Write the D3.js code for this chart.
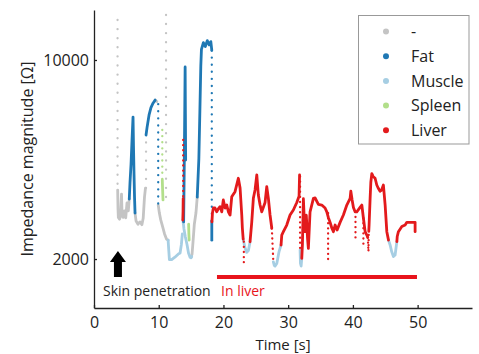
<!DOCTYPE html>
<html>
<head>
<meta charset="utf-8">
<script src="https://cdnjs.cloudflare.com/ajax/libs/d3/7.8.5/d3.min.js"></script>
<style>
  body { margin: 0; background: #fff; }
  svg text { font-family: "Open Sans", sans-serif; fill: #222; }
</style>
</head>
<body>
<div id="chart"></div>
<script>
// time [s], impedance [ohm]
const ticksX = [0, 10, 20, 30, 40, 50]
const ticksY = [2000, 10000]
const legendLabels = ["-", "Fat", "Muscle", "Spleen", "Liver"]

const greyTrace = [
  [[3.66,3494],[3.71,3000],[3.76,2800],[3.95,2760],[4.10,2830],[4.25,3380],[4.33,2900],[4.50,2800],[4.70,2950],[4.90,2790],[5.10,3150],[5.30,2950],[5.45,3250]],
  [[6.34,2900],[6.50,2720],[6.80,2650],[7.10,2700],[7.40,2640],[7.60,2780],[7.80,3300],[7.95,3550]],
  [[9.45,7230],[9.70,7150]],
  [[9.92,3100],[10.1,2900],[10.3,2750],[10.6,2600],[10.9,2450],[11.2,2350],[11.45,2330]],
  [[15.0,2030],[15.15,2080],[15.3,2300],[15.5,2650],[15.75,2900],[15.95,3300]]
]
const greyJumps = [
  [[3.64,13820],[3.64,3494]],
  [[8.04,3550],[8.04,5450]],
  [[11.13,14400],[11.13,3224]]
]

const fatTrace = [
  [[5.45,3250],[5.56,3700],[5.72,4300],[5.87,5200],[6.03,6300],[6.10,5000],[6.18,4000],[6.26,3300],[6.34,2900]],
  [[8.04,5450],[8.20,5800],[8.50,6400],[8.80,6800],[9.12,7050],[9.45,7230]],
  [[13.85,2700],[13.95,4400],[14.03,7000],[14.08,9450],[14.12,6500],[14.16,4450]],
  [[15.95,3300],[16.2,4500],[16.35,6500],[16.5,9500],[16.6,10900],[16.9,11500],[17.2,11150],[17.5,11700],[17.8,11300],[18.05,11600],[18.2,10800]],
  [[18.2,2720],[18.2,2330]]
]
const fatJumps = [
  [[9.92,7000],[9.92,3100]],
  [[18.2,10800],[18.2,2720]]
]

const muscleTrace = [
  [[11.45,2330],[11.55,2150],[11.65,1990],[12.0,1990],[12.5,2030],[13.0,2080],[13.3,2100],[13.5,2250],[13.65,2450]],
  [[13.74,2742],[13.9,2550],[14.1,2400],[14.37,2250],[14.6,2100],[14.84,2030],[15.0,2020],[15.1,2040]],
  [[23.05,2350],[23.3,2200],[23.6,2110],[23.85,2140],[24.11,2300]],
  [[27.71,1953],[27.85,1900],[27.98,1890],[28.24,1930],[28.59,2124],[28.90,2240]],
  [[31.84,2151],[31.9,1930],[32.0,1890],[32.1,2010]],
  [[45.5,2330],[45.75,2240],[46.0,2120],[46.26,2040],[46.52,2066],[46.79,2303]]
]

const spleenTrace = [
  [[10.55,3790],[10.6,3500],[10.66,3224]],
  [[14.62,2650],[14.66,2450],[14.7,2330]]
]
const spleenJumps = [
  [[10.55,5678],[10.55,3790]]
]

const liverTrace = [
  [[13.72,2742],[13.76,2950],[13.78,3260]],
  [[18.22,2700],[18.3,2900],[18.44,3021],[18.70,3021],[18.96,2930],[19.2,3000],[19.47,3055],[19.74,2930],[19.98,3224],[20.25,3021],[20.51,3095],[20.76,2930],[21.02,2855],[21.28,3308],[21.79,3448],[22.30,3843],[22.57,3552],[22.83,2855],[22.92,2570],[23.05,2350]],
  [[24.11,2300],[24.37,2690],[24.62,3267],[24.88,3494],[25.15,3946],[25.39,3356],[25.66,3095],[25.92,2930],[26.43,3160],[26.69,3590],[26.94,3267],[27.20,2855],[27.47,2565]],
  [[28.90,2240],[29.01,2428],[29.26,2495],[29.78,2633],[30.29,2855],[30.80,2972],[31.33,3160],[31.68,3320],[31.76,3946]],
  [[32.1,2010],[32.2,2250],[32.35,3256],[32.5,2700],[32.61,2495],[32.8,2850],[33.0,2350],[33.12,2180],[33.38,2930],[33.9,3267],[34.16,3276],[34.67,3110],[35.19,3095],[35.70,3021],[35.97,2930],[36.2,2800],[36.48,2690],[36.74,2570],[36.99,2495],[37.25,2633],[37.56,2529],[38.02,2690],[38.53,2855],[39.06,3095],[39.57,3267],[39.68,3460],[39.88,3224],[40.08,3036],[40.34,2930],[40.60,2930],[41.11,3036],[41.38,3095],[41.62,2786],[41.89,2495],[42.15,2428],[42.3,2380]],
  [[42.45,2500],[42.5,2633],[42.66,3267],[42.77,3720],[42.92,3990],[43.12,3900],[43.43,3843],[43.69,3639],[43.90,3552],[44.20,3460],[44.44,3494],[44.71,3639],[44.98,3095],[45.24,2495],[45.5,2330]],
  [[46.79,2303],[46.85,2400],[47.03,2495],[47.56,2600],[48.07,2633],[48.33,2690],[49.10,2690],[49.61,2690],[49.61,2495]]
]
const liverJumps = [
  [[13.78,5236],[13.78,3260]],
  [[23.15,2300],[23.15,1950]],
  [[27.47,2565],[27.71,1953]],
  [[31.84,3900],[31.84,2151]],
  [[36.17,2900],[36.17,1953]],
  [[40.4,2930],[40.4,2290]],
  [[41.62,2786],[41.62,2186]],
  [[42.3,2380],[42.4,2124],[42.45,2500]]
]

const width = 479
const height = 354

const x = d3.scaleLinear().domain([0, 58.4]).range([94, 472])
const y = d3.scaleLog().domain([1346, 14980]).range([308, 10])

const color = d3.scaleOrdinal()
  .domain(legendLabels)
  .range(["#c4c4c4", "#1f78b4", "#a6cee3", "#b2df8a", "#e31a1c"])

const svg = d3.select("#chart")
  .append("svg")
  .attr("width", width)
  .attr("height", height)

const line = d3.line().x(d => x(d[0])).y(d => y(d[1]))

const series = [
  {name: "-", trace: greyTrace, jumps: greyJumps, gap: 9},
  {name: "Spleen", trace: spleenTrace, jumps: spleenJumps, gap: 6},
  {name: "Muscle", trace: muscleTrace, jumps: [], gap: 6},
  {name: "Fat", trace: fatTrace, jumps: fatJumps, gap: 7},
  {name: "Liver", trace: liverTrace, jumps: liverJumps, gap: 5}
]

series.forEach(s => {
  const g = svg.append("g")
  // fast jumps are only sampled sparsely -> dotted
  g.selectAll(".jump")
    .data(s.jumps)
    .enter()
    .append("path")
    .attr("d", line)
    .attr("fill", "none")
    .attr("stroke", color(s.name))
    .attr("stroke-width", 2.3)
    .attr("stroke-linecap", "round")
    .attr("stroke-dasharray", `0.1 ${s.gap}`)
  g.selectAll(".trace")
    .data(s.trace)
    .enter()
    .append("path")
    .attr("d", line)
    .attr("fill", "none")
    .attr("stroke", color(s.name))
    .attr("stroke-width", 2.8)
    .attr("stroke-linejoin", "round")
    .attr("stroke-linecap", "round")
})

// axes, ticks pointing inward
const xAxis = svg.append("g")
  .attr("transform", "translate(0,308)")
  .call(d3.axisBottom(x).tickValues(ticksX).tickSize(-3).tickPadding(9).tickSizeOuter(0))
const yAxis = svg.append("g")
  .attr("transform", "translate(94,0)")
  .call(d3.axisLeft(y).tickValues(ticksY).tickFormat(d3.format("d")).tickSize(-3).tickPadding(5).tickSizeOuter(0))

;[xAxis, yAxis].forEach(a => {
  a.attr("font-size", 16)
  a.selectAll("path, line").attr("stroke", "#222").attr("stroke-width", 1.3)
})

svg.append("text")
  .attr("x", 283)
  .attr("y", 349.5)
  .attr("text-anchor", "middle")
  .attr("font-size", 15)
  .text("Time [s]")

svg.append("text")
  .attr("transform", "translate(33,159) rotate(-90)")
  .attr("text-anchor", "middle")
  .attr("font-size", 16)
  .text("Impedance magnitude [Ω]")

// annotations
svg.append("path")
  .attr("d", `M${x(3.7)},251 l8,11 h-4 v15 h-8 v-15 h-4 z`)
  .attr("fill", "#000")

svg.append("text")
  .attr("x", 103)
  .attr("y", 296)
  .attr("font-size", 14)
  .text("Skin penetration")

svg.append("text")
  .attr("x", 221)
  .attr("y", 296)
  .attr("font-size", 14)
  .style("fill", "#e8141c")
  .text("In liver")

svg.append("line")
  .attr("x1", x(19))
  .attr("x2", x(49.9))
  .attr("y1", 277)
  .attr("y2", 277)
  .attr("stroke", "#e8141c")
  .attr("stroke-width", 4)

// legend
const legend = svg.append("g")
legend.append("rect")
  .attr("x", 358.5)
  .attr("y", 15.5)
  .attr("width", 110.5)
  .attr("height", 128.5)
  .attr("fill", "#fff")
  .attr("stroke", "#999")

const items = legend.selectAll(".item")
  .data(legendLabels)
  .enter()
  .append("g")
  .attr("class", "item")
  .attr("transform", (d, i) => `translate(386,${31.5 + i * 24.7})`)

items.append("circle")
  .attr("r", 3)
  .attr("fill", d => color(d))

items.append("text")
  .attr("x", 25)
  .attr("dy", "0.35em")
  .attr("font-size", 16)
  .text(d => d)
</script>
</body>
</html>
